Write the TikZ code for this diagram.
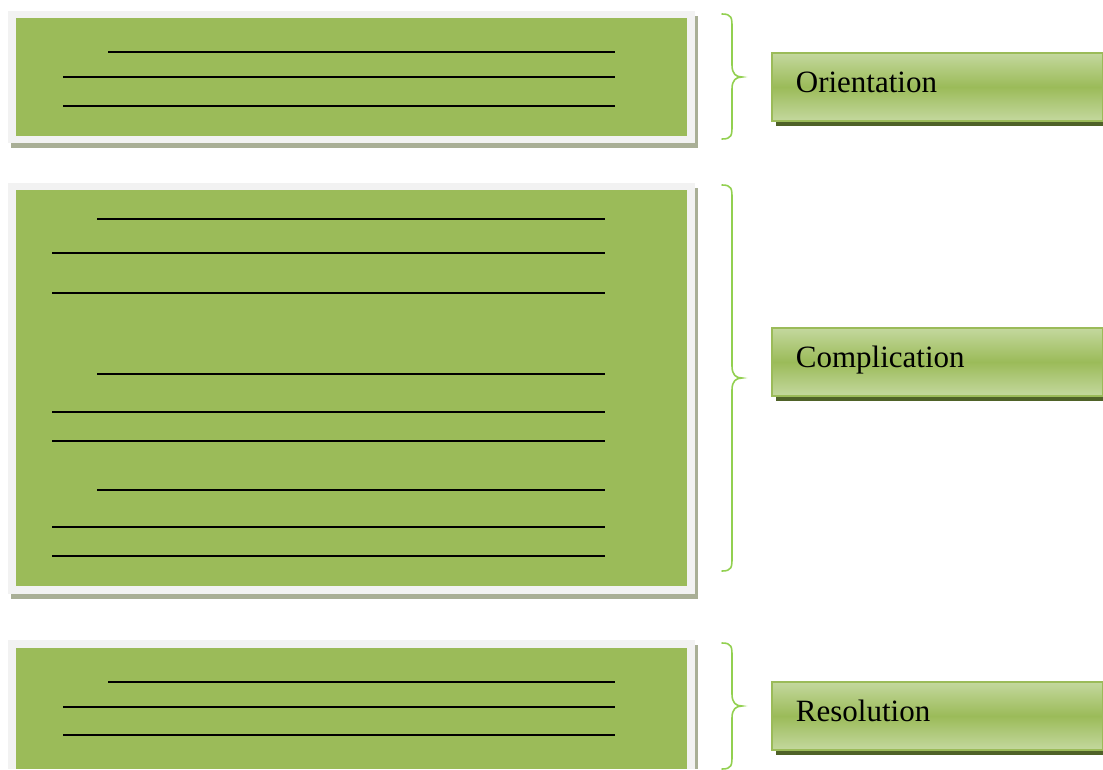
\documentclass[tikz,border=0pt]{standalone}
\usepackage{fontspec}
\setmainfont{Liberation Serif}
\usetikzlibrary{shadows}
\definecolor{panelgreen}{HTML}{9BBB59}
\definecolor{framegray}{HTML}{F2F2F2}
\definecolor{framedrop}{HTML}{A9AF96}
\definecolor{bracegreen}{HTML}{92D050}
\definecolor{labellight}{HTML}{C4D89E}
\definecolor{labeldrop}{HTML}{4F6228}
\tikzset{
  frame/.style={fill=framegray, draw=none},
  framedropshadow/.style={fill=framedrop, draw=none},
  panel/.style={fill=panelgreen, draw=none, inner sep=0pt},
  textline/.style={draw=black, line width=1.5pt},
  curly/.style={draw=bracegreen, line width=1.6pt, line cap=round},
  stage/.style={draw=panelgreen, line width=1.8pt,
    top color=labellight, bottom color=labellight, middle color=panelgreen,
    drop shadow={shadow xshift=4pt, shadow yshift=-5pt, fill=labeldrop, opacity=1},
    inner xsep=24pt, inner ysep=0pt, text width=283pt, align=left,
    text height=40pt, text depth=28pt,
    font=\fontsize{31}{31}\selectfont, anchor=north west},
}
% brace: top, tip, bottom y; x of top end, spine, tip
\newcommand\greenbrace[4]{%
  \coordinate (#1top) at (722,#2);
  \coordinate (#1tip) at (742,#3);
  \coordinate (#1bot) at (722,#4);
  \draw[curly] (#1top) .. controls (732,#2) and (732,#2+4) .. (732,#2+14)
    -- (732,#3-12) .. controls (732,#3-3) and (736,#3) .. (#1tip)
    .. controls (736,#3) and (732,#3+3) .. (732,#3+12)
    -- (732,#4-14) .. controls (732,#4-4) and (732,#4) .. (#1bot);
}
\begin{document}
\begin{tikzpicture}[x=1pt, y=-1pt]
\useasboundingbox (0,0) rectangle (1103,769);

% ---- story panels: drop, frame, green sheet ----
\fill[framedropshadow] (11,16) rectangle (698,148);
\fill[frame] (8,11) rectangle (695,143);
\node[panel, minimum width=671pt, minimum height=118pt, anchor=north west] (p1) at (16,18) {};

\fill[framedropshadow] (11,188) rectangle (698,599);
\fill[frame] (8,183) rectangle (695,594);
\node[panel, minimum width=671pt, minimum height=396pt, anchor=north west] (p2) at (16,190) {};

\fill[framedropshadow] (11,645) rectangle (698,769);
\fill[frame] (8,640) rectangle (695,769);
\node[panel, minimum width=671pt, minimum height=121pt, anchor=north west] (p3) at (16,648) {};

% ---- writing lines ----
\draw[textline] (108,52) -- (615,52);
\draw[textline] (63,77) -- (615,77);
\draw[textline] (63,106) -- (615,106);

\draw[textline] (97,219) -- (605,219);
\draw[textline] (52,253) -- (605,253);
\draw[textline] (52,293) -- (605,293);
\draw[textline] (97,374) -- (605,374);
\draw[textline] (52,412) -- (605,412);
\draw[textline] (52,441) -- (605,441);
\draw[textline] (97,490) -- (605,490);
\draw[textline] (52,527) -- (605,527);
\draw[textline] (52,556) -- (605,556);

\draw[textline] (108,682) -- (615,682);
\draw[textline] (63,707) -- (615,707);
\draw[textline] (63,735) -- (615,735);

% ---- braces ----
\greenbrace{b1}{14}{77}{139}
\greenbrace{b2}{185}{378}{571}
\greenbrace{b3}{643}{706}{769}

% ---- stage labels ----
\node[stage] (orientation) at (771,52) {Orientation};
\node[stage] (complication) at (771,327) {Complication};
\node[stage] (resolution) at (771,681) {Resolution};
\end{tikzpicture}
\end{document}
